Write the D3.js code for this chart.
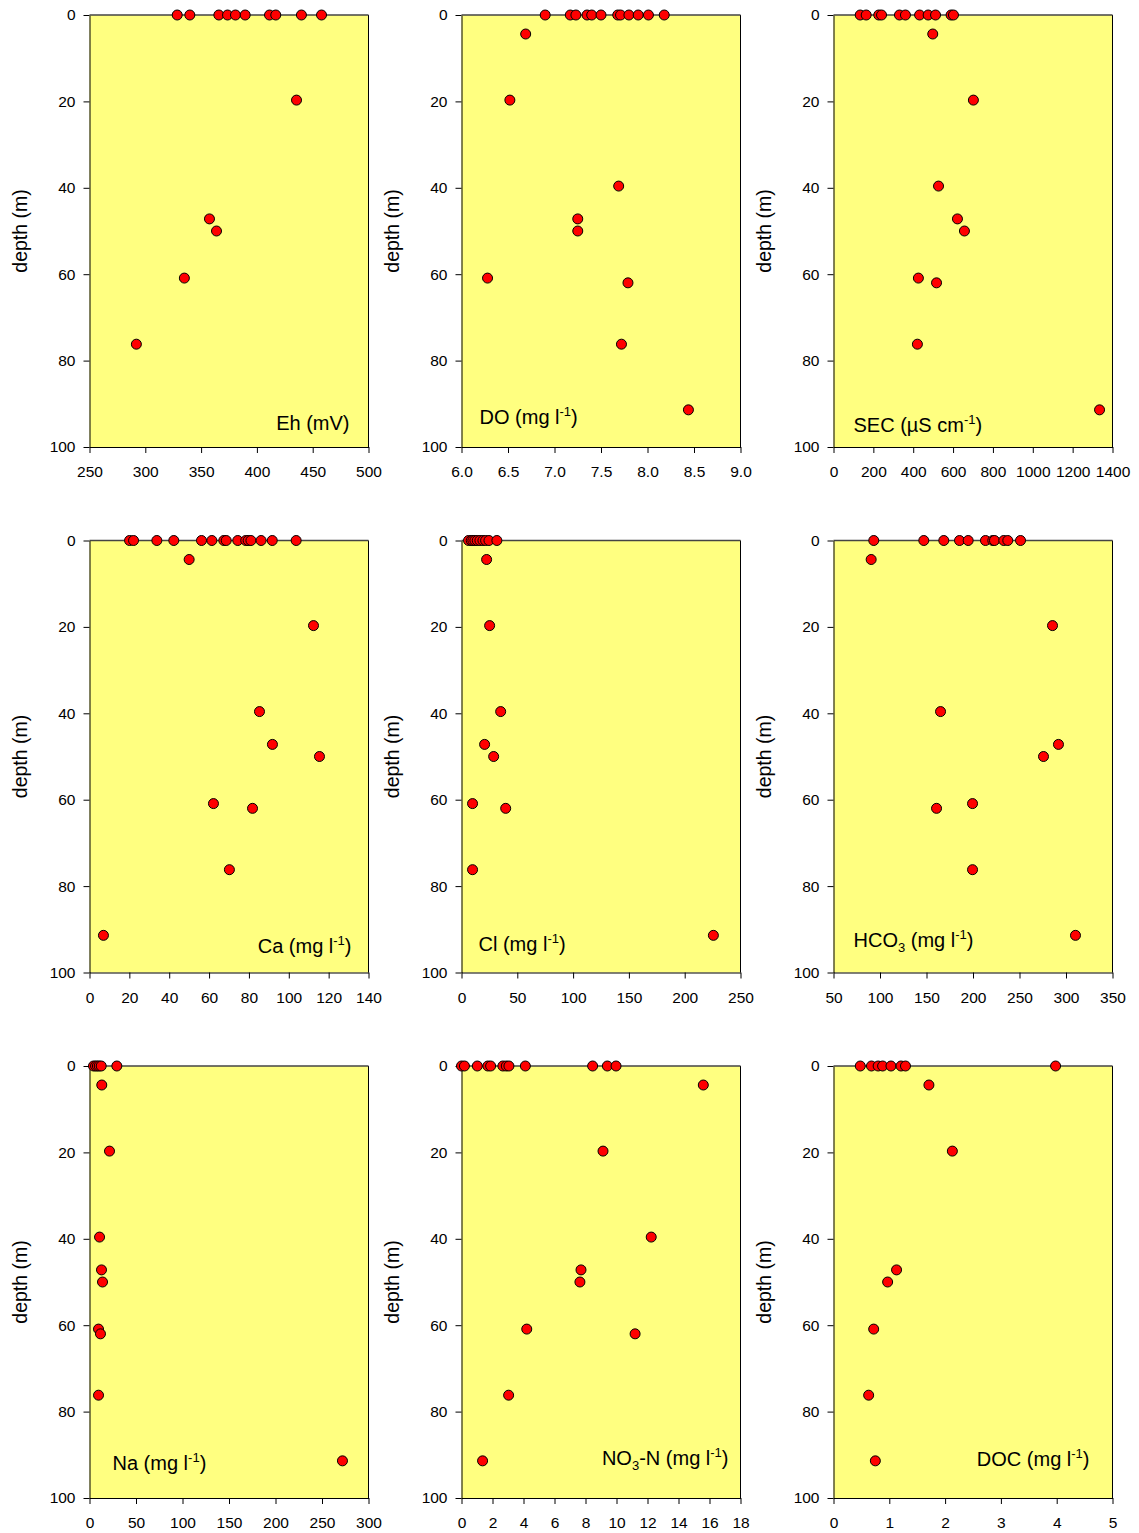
<!DOCTYPE html>
<html><head><meta charset="utf-8">
<script src="https://cdn.jsdelivr.net/npm/d3@7"></script>
<style>
body{margin:0;background:#fff}
svg{display:block}
text{font-family:"Liberation Sans",Arial,Helvetica,sans-serif;fill:#000}
</style>
</head><body>
<svg id="c" width="1139" height="1533"></svg>
<script>
// ---- data ----
const profileDepths = [4.4, 19.7, 39.6, 47.2, 50.0, 60.9, 62.0, 76.2, 91.4];
const depthTicks = [0, 20, 40, 60, 80, 100];

const ehSurface = [328.6, 339.9, 365.9, 373.7, 380.8, 389.5, 411.3, 416.9, 439.9, 457.9];
const ehProfile = [null, 435.5, null, 357.5, 363.8, 335.0, null, 292.0, null];
const ehTicks = [250, 300, 350, 400, 450, 500];

const doSurface = [6.90, 7.17, 7.23, 7.35, 7.40, 7.50, 7.68, 7.71, 7.80, 7.90, 8.01, 8.18];
const doProfile = [6.69, 6.52, 7.69, 7.25, 7.25, 6.28, 7.79, 7.72, 8.44];
const doTicks = [6.0, 6.5, 7.0, 7.5, 8.0, 8.5, 9.0];

const secSurface = [134, 164, 227, 241, 331, 361, 432, 475, 512, 590, 602];
const secProfile = [498, 702, 527, 622, 657, 426, 517, 421, 1335];
const secTicks = [0, 200, 400, 600, 800, 1000, 1200, 1400];

const caSurface = [20.1, 22.1, 33.8, 42.3, 56.2, 61.4, 67.4, 68.6, 74.4, 78.4, 79.6, 81.0, 86.1, 91.7, 103.7];
const caProfile = [50.0, 112.4, 85.3, 91.8, 115.4, 62.2, 81.8, 70.2, 7.0];
const caTicks = [0, 20, 40, 60, 80, 100, 120, 140];

const clSurface = [6.3, 8.7, 10.2, 12.0, 14.1, 16.5, 19.2, 21.6, 24.6, 31.7];
const clProfile = [22.5, 25.2, 35.1, 20.7, 28.8, 9.9, 39.6, 9.9, 225.7];
const clTicks = [0, 50, 100, 150, 200, 250];

const hco3Surface = [93.3, 147.1, 168.6, 185.5, 194.8, 213.4, 221.3, 223.1, 233.1, 237.4, 251.1];
const hco3Profile = [90.5, 285.5, 165.1, 291.9, 275.8, 199.5, 160.8, 199.5, 310.2];
const hco3Ticks = [50, 100, 150, 200, 250, 300, 350];

const naSurface = [4.3, 6.5, 8.5, 10.5, 12.6, 29.4];
const naProfile = [13.2, 21.5, 10.8, 12.9, 14.0, 9.7, 11.8, 9.7, 272.0];
const naTicks = [0, 50, 100, 150, 200, 250, 300];

const no3Surface = [0.0, 0.19, 1.02, 1.70, 1.88, 2.67, 2.89, 3.06, 4.12, 8.46, 9.41, 9.97];
const no3Profile = [15.6, 9.13, 12.24, 7.71, 7.64, 4.21, 11.2, 3.04, 1.36];
const no3Ticks = [0, 2, 4, 6, 8, 10, 12, 14, 16, 18];

const docSurface = [0.48, 0.68, 0.80, 0.88, 1.03, 1.21, 1.29, 3.98];
const docProfile = [1.71, 2.13, null, 1.13, 0.97, 0.72, null, 0.63, 0.75];
const docTicks = [0, 1, 2, 3, 4, 5];

// ---- layout ----
const colLeft = [89.5, 461.5, 833.5];
const rowTop = [15, 540.5, 1066];
const pw = 279, ph = 432;

const f0 = d3.format("d"), f1 = d3.format(".1f");
const panels = [
  {surface: ehSurface, profile: ehProfile, ticks: ehTicks, fmt: f0, col: 0, row: 0,
   label: [["Eh (mV)"]], anchor: "end", lx: pw - 19, ly: ph - 17},
  {surface: doSurface, profile: doProfile, ticks: doTicks, fmt: f1, col: 1, row: 0,
   label: [["DO (mg l"], ["-1", "sup"], [")"]], anchor: "start", lx: 18, ly: ph - 23},
  {surface: secSurface, profile: secProfile, ticks: secTicks, fmt: f0, col: 2, row: 0,
   label: [["SEC (µS cm"], ["-1", "sup"], [")"]], anchor: "start", lx: 20, ly: ph - 15},
  {surface: caSurface, profile: caProfile, ticks: caTicks, fmt: f0, col: 0, row: 1,
   label: [["Ca (mg l"], ["-1", "sup"], [")"]], anchor: "end", lx: pw - 17, ly: ph - 20},
  {surface: clSurface, profile: clProfile, ticks: clTicks, fmt: f0, col: 1, row: 1,
   label: [["Cl (mg l"], ["-1", "sup"], [")"]], anchor: "start", lx: 17, ly: ph - 22},
  {surface: hco3Surface, profile: hco3Profile, ticks: hco3Ticks, fmt: f0, col: 2, row: 1,
   label: [["HCO"], ["3", "sub"], [" (mg l"], ["-1", "sup"], [")"]], anchor: "start", lx: 20, ly: ph - 26},
  {surface: naSurface, profile: naProfile, ticks: naTicks, fmt: f0, col: 0, row: 2,
   label: [["Na (mg l"], ["-1", "sup"], [")"]], anchor: "start", lx: 23, ly: ph - 28},
  {surface: no3Surface, profile: no3Profile, ticks: no3Ticks, fmt: f0, col: 1, row: 2,
   label: [["NO"], ["3", "sub"], ["-N (mg l"], ["-1", "sup"], [")"]], anchor: "end", lx: pw - 12, ly: ph - 33},
  {surface: docSurface, profile: docProfile, ticks: docTicks, fmt: f0, col: 2, row: 2,
   label: [["DOC (mg l"], ["-1", "sup"], [")"]], anchor: "end", lx: pw - 23, ly: ph - 32}
];

const svg = d3.select("#c");

panels.forEach(p => {
  const g = svg.append("g").attr("transform", `translate(${colLeft[p.col]},${rowTop[p.row]})`);
  const x = d3.scaleLinear().domain([p.ticks[0], p.ticks[p.ticks.length - 1]]).range([0, pw]);
  const y = d3.scaleLinear().domain([0, 100]).range([0, ph]);

  g.append("rect").attr("x", 0).attr("y", 0).attr("width", pw).attr("height", ph)
    .attr("fill", "#FFFF80");

  // x axis (bottom)
  const xa = g.append("g").attr("transform", `translate(0,${ph})`)
    .call(d3.axisBottom(x).tickValues(p.ticks).tickFormat(p.fmt).tickSize(6).tickSizeOuter(0).tickPadding(13));
  xa.select(".domain").attr("stroke", "#000");
  xa.selectAll("text").attr("font-size", 15.5);
  xa.attr("font-family", null);

  // y axis (left)
  const ya = g.append("g")
    .call(d3.axisLeft(y).tickValues(depthTicks).tickFormat(f0).tickSize(6).tickSizeOuter(0).tickPadding(8));
  ya.select(".domain").attr("stroke", "#000");
  ya.selectAll("text").attr("font-size", 15.5);
  ya.attr("font-family", null);

  // right and top frame
  g.append("line").attr("x1", pw).attr("x2", pw).attr("y1", 0).attr("y2", ph).attr("stroke", "#000");
  g.append("line").attr("x1", 0).attr("x2", pw).attr("y1", 0).attr("y2", 0).attr("stroke", "#444").attr("stroke-width", 1.3);

  // y label
  g.append("text").attr("transform", `translate(${-63},${ph / 2}) rotate(-90)`)
    .attr("text-anchor", "middle").attr("font-size", 19.5).text("depth (m)");

  // panel label
  const t = g.append("text").attr("x", p.lx).attr("y", p.ly).attr("text-anchor", p.anchor).attr("font-size", 20);
  let shift = 0;
  p.label.forEach(([s, k]) => {
    let target = k === "sup" ? -8 : k === "sub" ? 5 : 0;
    const ts = t.append("tspan").attr("dy", target - shift).text(s);
    if (k) ts.attr("font-size", 13);
    shift = target;
  });

  // points
  const pts = p.surface.map(v => ({v, d: 0}))
    .concat(p.profile.map((v, i) => ({v, d: profileDepths[i]})).filter(o => o.v !== null));
  g.append("g").selectAll("circle").data(pts).join("circle")
    .attr("cx", o => x(o.v)).attr("cy", o => y(o.d)).attr("r", 5)
    .attr("fill", "#FF0000").attr("stroke", "#000").attr("stroke-width", 1);
});
</script>
</body></html>
